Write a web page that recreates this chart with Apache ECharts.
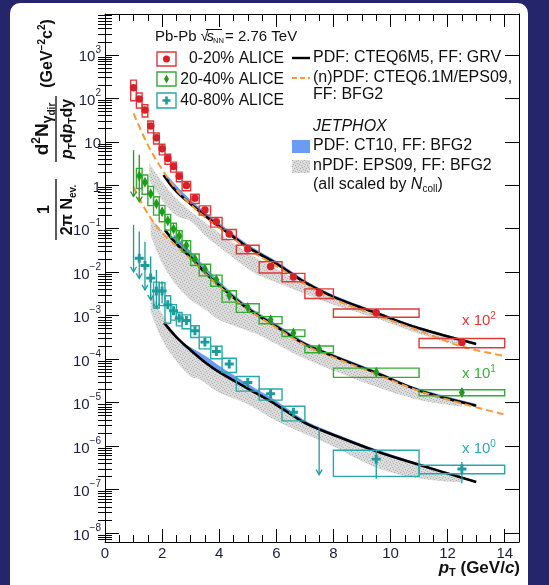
<!DOCTYPE html>
<html>
<head>
<meta charset="utf-8">
<title>Direct photon spectra, Pb-Pb 2.76 TeV</title>
<script src="https://cdn.jsdelivr.net/npm/echarts@6.0.0/dist/echarts.min.js"></script>
<style>
html,body{margin:0;padding:0;background:#25256b;}
#chart{width:549px;height:585px;}
</style>
</head>
<body>
<div id="chart"></div>
<script>
// ---------- pT binning (GeV/c) ----------
const binLow    = [0.9,1.1,1.3,1.5,1.7,1.9,2.1,2.3,2.5,2.7,3.0,3.3,3.7,4.1,4.6,5.4,6.2,7.0,8.0,11.0];
const binHigh   = [1.1,1.3,1.5,1.7,1.9,2.1,2.3,2.5,2.7,3.0,3.3,3.7,4.1,4.6,5.4,6.2,7.0,8.0,11.0,14.0];
const binCentre = [1.0,1.2,1.4,1.6,1.8,2.0,2.2,2.4,2.6,2.85,3.15,3.5,3.9,4.35,5.0,5.8,6.6,7.5,9.5,12.5];

// ---------- 0-20% ALICE (scaled x 10^2) ----------
const yieldC0 = [175,96,54,23,12.4,6.9,4.1,2.7,1.6,0.98,0.50,0.27,0.145,0.076,0.034,0.0135,0.0077,0.0033,0.00117,0.00024];
const sysC0   = [87,36,17,7,3.5,1.9,1.07,0.7,0.4,0.235,0.12,0.065,0.036,0.02,0.0075,0.0039,0.0017,0.00083,0.00025,0.000058];
const errLoC0 = [null,null,null,null,null,null,null,null,null,null,null,null,null,null,null,null,null,null,0.00105,0.0002];
const errHiC0 = [null,null,null,null,null,null,null,null,null,null,null,null,null,null,null,null,null,null,0.0013,0.00028];
const arrowC0 = [0,0,0,0,0,0,0,0,0,0,0,0,0,0,0,0,0,0,0,0];

// ---------- 20-40% ALICE (scaled x 10^1) ----------
const yieldC1 = [null,1.64,1.17,0.64,0.375,0.245,0.153,0.098,0.068,0.041,0.0202,0.0117,0.00665,0.0029,0.00153,0.0008,0.0004,0.00017,0.00005,0.000017];
const sysC1   = [null,0.8,0.55,0.3,0.17,0.1,0.06,0.035,0.022,0.012,0.006,0.0035,0.0019,0.00085,0.00034,0.00015,0.00007,0.00003,0.000012,0.0000027];
const errLoC1 = [0.55,0.42,null,null,null,null,null,null,null,null,null,null,null,null,null,null,null,null,0.000044,0.0000135];
const errHiC1 = [6.4,5.0,null,null,null,null,null,null,null,null,null,null,null,null,null,null,null,null,0.000056,0.000021];
const arrowC1 = [1,1,0,0,0,0,0,0,0,0,0,0,0,0,0,0,0,0,0,0];

// ---------- 40-80% ALICE (scaled x 10^0) ----------
const yieldC2 = [null,0.021,0.0142,0.0073,0.0037,0.0037,0.00177,0.00129,0.00088,0.00077,0.00045,0.000246,0.00015,0.000077,0.000029,0.000016,0.000006,null,0.0000005,0.000000296];
const sysC2   = [null,null,null,null,0.0022,0.002,0.0011,0.0005,0.0003,0.00027,0.000135,0.000074,0.000048,0.000028,0.0000107,0.0000046,0.0000022,null,0.0000003,0.000000065];
const errLoC2 = [0.0102,0.0072,0.0039,0.0023,0.00148,0.0019,null,null,null,null,null,null,null,null,null,null,null,0.00000022,0.000000177,0.00000014];
const errHiC2 = [0.122,0.086,0.05,0.023,0.0113,0.0062,null,null,null,null,null,null,null,null,null,null,null,0.0000026,0.00000077,0.00000043];
const arrowC2 = [1,1,1,1,1,0,0,0,0,0,0,0,0,0,0,0,0,1,0,0];

// ---------- pQCD: PDF CTEQ6M5, FF GRV (solid black) ----------
const blackPtC0 = [2.05,2.5,3.0,3.5,4.0,4.5,5.0,6.0,7.0,8.0,9.5,11.0,13.0];
const blackC0   = [1.73,0.72,0.37,0.2,0.112,0.065,0.037,0.0158,0.0058,0.0027,0.00115,0.00051,0.000222];
const blackPtC1 = [2.1,2.5,3.0,3.5,4.0,5.0,6.0,7.0,8.0,9.5,11.0,13.0];
const blackC1   = [0.093,0.045,0.022,0.0098,0.005,0.00145,0.00056,0.00022,0.000117,0.000048,0.000019,0.0000085];
const blackPtC2 = [2.07,2.5,3.0,3.5,4.0,5.0,6.0,7.0,8.0,9.5,11.0,13.0];
const blackC2   = [0.00068,0.00032,0.00016,0.000085,0.00005,0.000021,0.0000089,0.0000034,0.0000018,0.00000076,0.00000037,0.000000148];

// ---------- pQCD: (n)PDF CTEQ6.1M/EPS09, FF BFG2 (dashed orange) ----------
const orangePtC0 = [1.0,1.5,2.0,2.5,3.0,3.5,4.0,5.0,6.0,7.0,8.0,9.5,11.0,12.5,14.0];
const orangeC0   = [45,8.5,2.3,0.8,0.36,0.185,0.105,0.034,0.0138,0.0053,0.0024,0.00102,0.00045,0.000195,0.000118];
const orangePtC1 = [1.0,1.5,2.0,2.5,3.0,3.5,4.0,5.0,6.0,7.0,8.0,9.5,11.0,12.5,14.0];
const orangeC1   = [0.9,0.22,0.08,0.04,0.02,0.0095,0.0047,0.0014,0.00053,0.00021,0.00011,0.000045,0.0000185,0.0000095,0.0000053];

// ---------- JETPHOX, PDF CT10, FF BFG2 (blue band) ----------
const bluePtC0 = [2.2,3.0,4.0,5.0,6.0,7.0,8.0,9.5,11.0,13.0];
const blueHiC0 = [1.6,0.46,0.135,0.044,0.018,0.0066,0.003,0.00125,0.00055,0.00024];
const blueLoC0 = [1.1,0.35,0.105,0.035,0.015,0.0056,0.0026,0.00111,0.00049,0.000215];
const bluePtC1 = [2.4,3.0,4.0,5.0,6.0,7.0,8.0,9.5,11.0,13.0];
const blueHiC1 = [0.075,0.03,0.0062,0.0017,0.00065,0.00025,0.00013,0.000053,0.000021,0.0000093];
const blueLoC1 = [0.05,0.021,0.0047,0.0014,0.00055,0.00021,0.000113,0.0000465,0.0000185,0.0000083];
const bluePtC2 = [2.7,3.5,4.0,5.0,6.0,7.0,8.0,9.5,11.0,13.0];
const blueHiC2 = [0.00024,0.00012,0.00007,0.000027,0.000011,0.0000039,0.000002,0.00000084,0.0000004,0.000000158];
const blueLoC2 = [0.00021,0.000083,0.000049,0.0000205,0.0000087,0.0000033,0.00000175,0.00000074,0.00000036,0.000000145];

// ---------- JETPHOX, nPDF EPS09, FF BFG2 (grey band) ----------
const grayPtC0 = [1.55,2.0,2.5,3.0,3.5,4.0,5.0,5.5,7.0,8.0,9.5,11.0,12.5];
const grayHiC0 = [3.2,1.2,0.5,0.25,0.14,0.08,0.028,0.018,0.0053,0.00275,0.00124,0.00053,0.000254];
const grayLoC0 = [1.3,0.45,0.2,0.15,0.07,0.038,0.012,0.0079,0.0032,0.00178,0.00087,0.00038,0.000195];
const grayPtC1 = [1.6,2.0,2.5,3.0,3.5,4.0,5.0,5.5,6.83,8.0,9.5,11.0,12.5];
const grayHiC1 = [0.18,0.09,0.043,0.02,0.0095,0.0048,0.0014,0.00095,0.00024,0.00011,0.000048,0.000017,0.000011];
const grayLoC1 = [0.07,0.016,0.005,0.0023,0.0014,0.0008,0.00045,0.00033,0.000115,0.000055,0.000023,0.0000115,0.000008];
const grayPtC2 = [1.6,2.0,2.5,3.0,3.33,4.0,5.0,6.0,7.0,7.88,9.5,11.0,12.5];
const grayHiC2 = [0.0035,0.0011,0.00035,0.00015,0.0001,0.00005,0.00002,0.0000088,0.0000036,0.0000021,0.00000076,0.00000035,0.00000022];
const grayLoC2 = [0.0012,0.00028,0.00009,0.00004,0.000034,0.000017,0.0000092,0.0000038,0.0000019,0.00000107,0.00000032,0.00000018,0.000000145];

// ---------- axes ----------
const X_MIN = 0, X_MAX = 14.5;
const Y_MIN = 6.2e-9, Y_MAX = 8.7e3;
const xMajor = [0,2,4,6,8,10,12,14];
const yMajor = [1e-8,1e-7,1e-6,1e-5,1e-4,1e-3,1e-2,1e-1,1,10,100,1000];

const xMinor = [];
for (let v = 0.5; v <= X_MAX + 1e-9; v += 0.5) if (Math.abs(v / 2 - Math.round(v / 2)) > 1e-6) xMinor.push(v);
const yMinor = [];
for (let e = -9; e <= 3; e++) for (let k = 2; k <= 9; k++) {
  const v = k * Math.pow(10, e);
  if (v > Y_MIN && v < Y_MAX) yMinor.push(v);
}

const FONT = '"Liberation Sans", Arial, Helvetica, sans-serif';
const RED = '#d8202a', RED_BOX = '#dd3a3a';
const GREEN = '#1f9a1f', GREEN_BOX = '#36ab36';
const TEAL = '#1a9c9c', TEAL_BOX = '#2aa7aa';
const ORANGE = '#f79a3c', BLUE = '#6b9bf2';
const INK = '#111111';

// stippled grey fill
function grayPattern() {
  const c = document.createElement('canvas');
  c.width = 6; c.height = 6;
  const g = c.getContext('2d');
  g.fillStyle = '#dadada'; g.fillRect(0, 0, 6, 6);
  g.fillStyle = '#b2b2b2';
  [[0,0],[3,1],[1,3],[4,4],[2,5],[5,2]].forEach(([x, y]) => g.fillRect(x, y, 1, 1));
  return c;
}
const GRAY_FILL = { image: grayPattern(), repeat: 'repeat' };

// Catmull-Rom through pixel points
function spline(pts, n) {
  if (pts.length < 3) return pts;
  const out = [];
  const L = pts.length;
  for (let i = 0; i < L - 1; i++) {
    const p0 = pts[Math.max(i - 1, 0)], p1 = pts[i], p2 = pts[i + 1], p3 = pts[Math.min(i + 2, L - 1)];
    for (let k = 0; k < n; k++) {
      const t = k / n, t2 = t * t, t3 = t2 * t;
      out.push([0, 1].map(d => 0.5 * (2 * p1[d] + (-p0[d] + p2[d]) * t +
        (2 * p0[d] - 5 * p1[d] + 4 * p2[d] - p3[d]) * t2 +
        (-p0[d] + 3 * p1[d] - 3 * p2[d] + p3[d]) * t3)));
    }
  }
  out.push(pts[L - 1]);
  return out;
}

function bandSeries(pt, hi, lo, fill, z) {
  return {
    type: 'custom', z, silent: true, clip: true,
    data: [[pt[0], hi[0]]],
    renderItem: (params, api) => {
      const top = spline(pt.map((x, i) => api.coord([x, hi[i]])), 10);
      const bot = spline(pt.map((x, i) => api.coord([x, lo[i]])), 10).reverse();
      return { type: 'polygon', shape: { points: top.concat(bot) }, style: { fill } };
    }
  };
}

function curveSeries(pt, val, color, dashed, width) {
  return {
    type: 'line', z: dashed ? 5 : 4, silent: true, smooth: 0.35, symbol: 'none',
    data: pt.map((x, i) => [x, val[i]]),
    lineStyle: { color, width, type: dashed ? [7, 4] : 'solid', cap: 'butt' }
  };
}

function boxSeries(vals, sys, color) {
  const data = [];
  vals.forEach((v, i) => {
    if (v != null && sys[i] != null) data.push([binLow[i], binHigh[i], Math.max(v - sys[i], Y_MIN), v + sys[i]]);
  });
  return {
    type: 'custom', z: 6, silent: true, clip: true, data,
    encode: { x: [0, 1], y: [2, 3] },
    renderItem: (params, api) => {
      const a = api.coord([api.value(0), api.value(3)]);
      const b = api.coord([api.value(1), api.value(2)]);
      return { type: 'rect', shape: { x: a[0], y: a[1], width: b[0] - a[0], height: b[1] - a[1] },
        style: { fill: null, stroke: color, lineWidth: 1.4 } };
    }
  };
}

function errSeries(lo, hi, arrow, color) {
  const data = [];
  binCentre.forEach((x, i) => { if (lo[i] != null) data.push([x, lo[i], hi[i], arrow[i]]); });
  return {
    type: 'custom', z: 7, silent: true, clip: true, data,
    encode: { x: 0, y: [1, 2] },
    renderItem: (params, api) => {
      const t = api.coord([api.value(0), api.value(2)]);
      const b = api.coord([api.value(0), api.value(1)]);
      const children = [{ type: 'line', shape: { x1: t[0], y1: t[1], x2: b[0], y2: b[1] }, style: { stroke: color, lineWidth: 1.3 } }];
      if (api.value(3)) children.push({ type: 'polyline', shape: { points: [[b[0] - 3, b[1] - 5], [b[0], b[1]], [b[0] + 3, b[1] - 5]] },
        style: { stroke: color, lineWidth: 1.3, fill: null } });
      return { type: 'group', children };
    }
  };
}

function markerSeries(vals, symbol, size, color) {
  const data = [];
  binCentre.forEach((x, i) => { if (vals[i] != null) data.push([x, vals[i]]); });
  return { type: 'scatter', z: 8, silent: true, symbol, symbolSize: size, data, itemStyle: { color, opacity: 1 } };
}

const DIAMOND = 'path://M0,-5L2.4,0L0,5L-2.4,0Z';
const CROSS = 'path://M-1.3,-4H1.3V-1.3H4V1.3H1.3V4H-1.3V1.3H-4V-1.3H-1.3Z';

const series = [
  bandSeries(grayPtC0, grayHiC0, grayLoC0, GRAY_FILL, 1),
  bandSeries(grayPtC1, grayHiC1, grayLoC1, GRAY_FILL, 1),
  bandSeries(grayPtC2, grayHiC2, grayLoC2, GRAY_FILL, 1),
  bandSeries(bluePtC0, blueHiC0, blueLoC0, BLUE, 2),
  bandSeries(bluePtC1, blueHiC1, blueLoC1, BLUE, 2),
  bandSeries(bluePtC2, blueHiC2, blueLoC2, BLUE, 2),
  curveSeries(blackPtC0, blackC0, '#000', false, 2.6),
  curveSeries(blackPtC1, blackC1, '#000', false, 2.6),
  curveSeries(blackPtC2, blackC2, '#000', false, 2.6),
  curveSeries(orangePtC0, orangeC0, ORANGE, true, 2),
  curveSeries(orangePtC1, orangeC1, ORANGE, true, 2),
  boxSeries(yieldC0, sysC0, RED_BOX),
  boxSeries(yieldC1, sysC1, GREEN_BOX),
  boxSeries(yieldC2, sysC2, TEAL_BOX),
  errSeries(errLoC0, errHiC0, arrowC0, RED),
  errSeries(errLoC1, errHiC1, arrowC1, GREEN),
  errSeries(errLoC2, errHiC2, arrowC2, TEAL),
  markerSeries(yieldC0, 'circle', 7.5, RED),
  markerSeries(yieldC1, DIAMOND, [6, 11], GREEN),
  markerSeries(yieldC2, CROSS, 9, TEAL)
];

const LABEL_COLOR = '#1c1f3c';
function xAxisDef(position, ticks, len, labels) {
  return {
    type: 'value', position, min: X_MIN, max: X_MAX,
    axisLine: { show: true, onZero: false, lineStyle: { color: '#000', width: 1 } },
    axisTick: { show: true, inside: true, length: len, customValues: ticks, lineStyle: { color: '#000', width: 1 } },
    axisLabel: labels ? { show: true, customValues: xMajor, fontSize: 15, fontFamily: FONT, color: LABEL_COLOR, margin: 4 } : { show: false },
    splitLine: { show: false }
  };
}
function yAxisDef(position, ticks, len, labels) {
  return {
    type: 'log', logBase: 10, position, min: Y_MIN, max: Y_MAX,
    axisLine: { show: true, onZero: false, lineStyle: { color: '#000', width: 1 } },
    axisTick: { show: true, inside: true, length: len, customValues: ticks, lineStyle: { color: '#000', width: 1 } },
    axisLabel: labels ? {
      show: true, customValues: yMajor, margin: 4,
      formatter: v => {
        const e = Math.round(Math.log10(v));
        if (e === 0) return '{b|1}';
        if (e === 1) return '{b|10}';
        return '{b|10}{s|' + (e < 0 ? '\u2212' + (-e) : e) + '}';
      },
      rich: {
        b: { fontSize: 15, fontFamily: FONT, color: LABEL_COLOR, lineHeight: 20, verticalAlign: 'bottom' },
        s: { fontSize: 10, fontFamily: FONT, color: LABEL_COLOR, lineHeight: 12, verticalAlign: 'top' }
      }
    } : { show: false },
    splitLine: { show: false }
  };
}

// ---------- text helpers ----------
function tok(size, opts) {
  return Object.assign({ fontSize: size, fontFamily: FONT, fontWeight: 'normal', fontStyle: 'normal', fill: INK, verticalAlign: 'middle' }, opts || {});
}
function T(x, y, text, size, opts, align) {
  return { type: 'text', x, y, z: 50, silent: true,
    style: Object.assign({ text, fontSize: size, fontFamily: FONT, fill: INK, align: align || 'left', verticalAlign: 'middle' }, opts || {}) };
}
function R(x, y, text, rich, align) {
  return { type: 'text', x, y, z: 50, silent: true,
    style: { text, rich, align: align || 'left', verticalAlign: 'middle' } };
}

// a run of differently sized pieces (sub/superscripts), laid out with measured widths
const measureCtx = document.createElement('canvas').getContext('2d');
function pieceFont(p) { return (p.i ? 'italic ' : '') + (p.b ? 'bold ' : '') + p.s + 'px ' + FONT; }
function run(pieces, x0, y0, align) {
  const widths = pieces.map(p => { measureCtx.font = pieceFont(p); return measureCtx.measureText(p.t).width; });
  const total = widths.reduce((a, b) => a + b, 0);
  let x = align === 'center' ? x0 - total / 2 : align === 'right' ? x0 - total : x0;
  return pieces.map((p, k) => {
    const el = { type: 'text', x, y: y0 + (p.dy || 0), z: 50, silent: true,
      style: { text: p.t, fontSize: p.s, fontFamily: FONT, fontWeight: p.b ? 'bold' : 'normal', fontStyle: p.i ? 'italic' : 'normal',
        fill: INK, align: 'left', verticalAlign: 'middle' } };
    x += widths[k];
    return el;
  });
}

function scaleRich(color) {
  return { a: tok(15, { fill: color, lineHeight: 20 }), p: tok(10, { fill: color, lineHeight: 12, verticalAlign: 'top' }) };
}

const LX = 292, LT = 313; // model legend: sample and text columns

const yTitle = [].concat(
  [{ type: 'line', shape: { x1: 0, y1: 0, x2: 61, y2: 0 }, style: { stroke: '#333', lineWidth: 1.6 } }],
  run([{ t: '1', s: 16, b: 1 }], 30.5, -11, 'center'),
  run([{ t: '2\u03c0 N', s: 16, b: 1 }, { t: 'ev.', s: 10, b: 1, dy: 5 }], 30, 12, 'center'),
  [{ type: 'line', shape: { x1: 78, y1: 0, x2: 144, y2: 0 }, style: { stroke: '#333', lineWidth: 1.6 } }],
  run([{ t: 'd', s: 19, b: 1 }, { t: '2', s: 12, b: 1, dy: -6 }, { t: 'N', s: 19, b: 1 },
       { t: '\u03b3', s: 14, b: 1, dy: 5 }, { t: 'dir', s: 10, b: 1, dy: 9 }], 111, -13, 'center'),
  run([{ t: 'p', s: 16, b: 1, i: 1 }, { t: 'T', s: 10, b: 1, dy: 5 }, { t: 'd', s: 16, b: 1 }, { t: 'p', s: 16, b: 1, i: 1 },
       { t: 'T', s: 10, b: 1, dy: 5 }, { t: 'dy', s: 16, b: 1 }], 111, 12, 'center'),
  run([{ t: '(GeV', s: 16, b: 1 }, { t: '\u22122', s: 10, b: 1, dy: -6 }, { t: 'c', s: 16, b: 1 }, { t: '2', s: 10, b: 1, dy: -6 },
       { t: ')', s: 16, b: 1 }], 186.5, -8, 'center')
);
yTitle.forEach(el => { delete el.z; });

const graphic = [
  // white panel
  { type: 'rect', z: -100, silent: true, shape: { x: 10, y: 3, width: 518, height: 600, r: 10 }, style: { fill: '#ffffff' } },

  // y-axis title, written along the axis
  { type: 'group', x: 56, y: 240, rotation: Math.PI / 2, z: 50, silent: true, children: yTitle }
].concat(
  // x-axis title
  run([{ t: 'p', s: 17, b: 1, i: 1 }, { t: 'T', s: 11, b: 1, dy: 5 }, { t: ' (GeV/', s: 17, b: 1 }, { t: 'c', s: 17, b: 1, i: 1 },
       { t: ')', s: 17, b: 1 }], 520, 568, 'right'),
  [
  // collision system
  T(155, 37, 'Pb-Pb', 15),
  T(200.5, 37, '\u221a', 15),
  T(206.5, 37, 's', 15, { fontStyle: 'italic' }),
  T(213, 41, 'NN', 7.5),
  { type: 'line', z: 50, silent: true, shape: { x1: 206, y1: 29.5, x2: 222, y2: 29.5 }, style: { stroke: INK, lineWidth: 1 } },
  T(225, 37, '= 2.76 TeV', 15),

  // data legend
  { type: 'rect', z: 50, silent: true, shape: { x: 157, y: 52, width: 19, height: 14 }, style: { fill: null, stroke: RED_BOX, lineWidth: 1.4 } },
  { type: 'circle', z: 51, silent: true, shape: { cx: 166.5, cy: 59, r: 3.5 }, style: { fill: RED } },
  T(284, 59, '0-20% ALICE', 15.7, null, 'right'),
  { type: 'rect', z: 50, silent: true, shape: { x: 157, y: 72, width: 19, height: 14 }, style: { fill: null, stroke: GREEN_BOX, lineWidth: 1.4 } },
  { type: 'polygon', z: 51, silent: true, shape: { points: [[166.5, 74.5], [169, 79], [166.5, 83.5], [164, 79]] }, style: { fill: GREEN } },
  T(284, 79.5, '20-40% ALICE', 15.7, null, 'right'),
  { type: 'rect', z: 50, silent: true, shape: { x: 157, y: 93, width: 19, height: 15 }, style: { fill: null, stroke: TEAL_BOX, lineWidth: 1.4 } },
  { type: 'polygon', z: 51, silent: true, shape: { points: [[165.2,96.5],[167.8,96.5],[167.8,99.2],[170.5,99.2],[170.5,101.8],[167.8,101.8],[167.8,104.5],[165.2,104.5],[165.2,101.8],[162.5,101.8],[162.5,99.2],[165.2,99.2]] }, style: { fill: TEAL } },
  T(284, 100.5, '40-80% ALICE', 15.7, null, 'right'),

  // model legend
  { type: 'line', z: 50, silent: true, shape: { x1: LX, y1: 58, x2: LX + 18, y2: 58 }, style: { stroke: '#000', lineWidth: 2.4 } },
  T(LT, 57.5, 'PDF: CTEQ6M5, FF: GRV', 16),
  { type: 'line', z: 50, silent: true, shape: { x1: LX, y1: 78, x2: LX + 18, y2: 78 }, style: { stroke: ORANGE, lineWidth: 2, lineDash: [5, 3] } },
  T(LT, 77.5, '(n)PDF: CTEQ6.1M/EPS09,', 16),
  T(LT, 95, 'FF: BFG2', 16),
  T(LT, 127, 'JETPHOX', 16, { fontStyle: 'italic' }),
  { type: 'rect', z: 50, silent: true, shape: { x: LX, y: 140, width: 18, height: 13 }, style: { fill: BLUE } },
  T(LT, 146, 'PDF: CT10, FF: BFG2', 16),
  { type: 'rect', z: 50, silent: true, shape: { x: LX, y: 160, width: 18, height: 13 }, style: { fill: GRAY_FILL } },
  T(LT, 166, 'nPDF: EPS09, FF: BFG2', 16),
  R(LT, 184.5, '{a|(all scaled by }{i|N}{s|coll}{a|)}', {
    a: tok(16, { lineHeight: 20 }),
    i: tok(16, { fontStyle: 'italic', lineHeight: 20 }),
    s: tok(10, { lineHeight: 8, verticalAlign: 'bottom' })
  }),

  // scale factors
  R(462, 321, '{a|x 10}{p|2}', scaleRich('#e03636')),
  R(462, 374, '{a|x 10}{p|1}', scaleRich('#3aae3a')),
  R(462, 449, '{a|x 10}{p|0}', scaleRich('#2eaab2'))
  ]
);

const chart = echarts.init(document.getElementById('chart'), null, { renderer: 'canvas', width: 549, height: 585 });
chart.setOption({
  backgroundColor: '#25256b',
  animation: false,
  grid: { left: 105, right: 30, top: 14, bottom: 43, containLabel: false },
  xAxis: [
    xAxisDef('bottom', xMajor, 13, true),
    Object.assign(xAxisDef('bottom', xMinor, 7, false), { axisLine: { show: false } }),
    xAxisDef('top', xMajor, 13, false),
    Object.assign(xAxisDef('top', xMinor, 7, false), { axisLine: { show: false } })
  ],
  yAxis: [
    yAxisDef('left', yMajor, 14, true),
    Object.assign(yAxisDef('left', yMinor, 7, false), { axisLine: { show: false } }),
    yAxisDef('right', yMajor, 14, false),
    Object.assign(yAxisDef('right', yMinor, 7, false), { axisLine: { show: false } })
  ],
  series,
  graphic
});
</script>
</body>
</html>
